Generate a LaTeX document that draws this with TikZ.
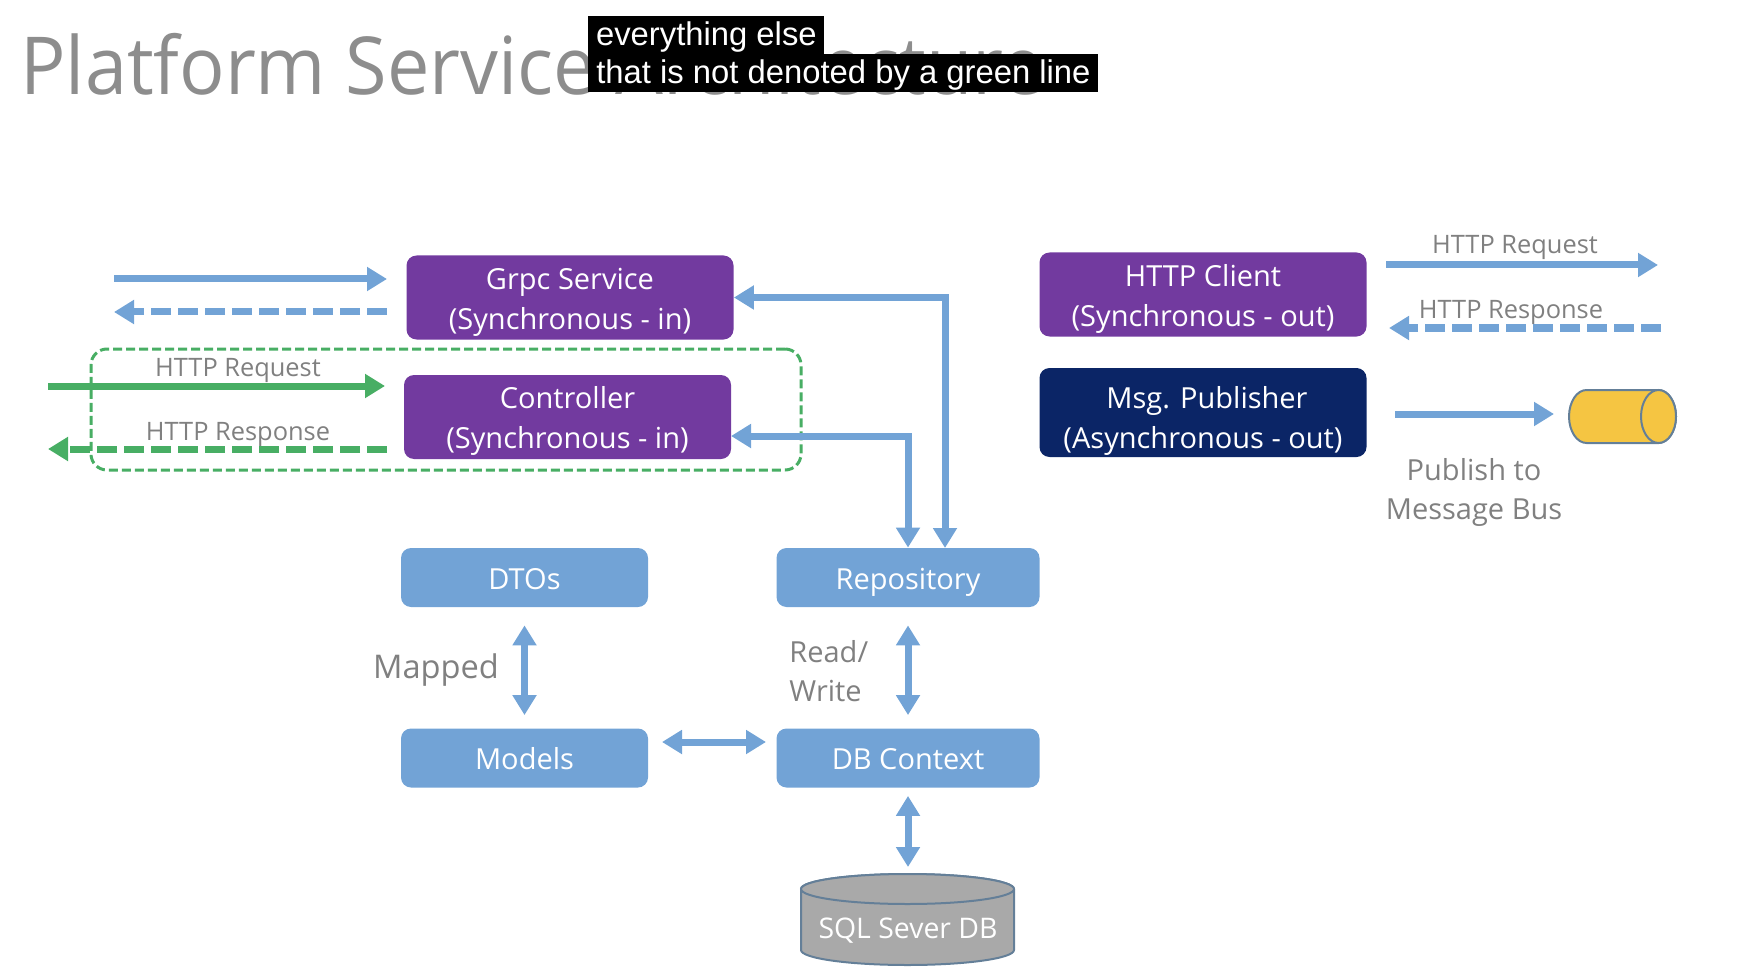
\documentclass[tikz,border=0pt]{standalone}
\usepackage{fontspec}
\setmainfont{Open Sans}
\newfontfamily\captionfont{Liberation Sans}
\newfontfamily\titlefont[FakeStretch=0.945]{Open Sans}
\usetikzlibrary{arrows.meta,positioning}
\definecolor{grape}{HTML}{723A9F}
\definecolor{navy}{HTML}{0B2566}
\definecolor{sky}{HTML}{72A3D6}
\definecolor{leaf}{HTML}{48AE64}
\definecolor{ink}{HTML}{808080}
\definecolor{bar}{HTML}{F5C542}
\definecolor{stone}{HTML}{A9A9A9}
\definecolor{rim}{HTML}{647F98}
\newcommand{\lift}[1]{\rule{0pt}{#1}}
\begin{document}
\begin{tikzpicture}
[x=0.5pt,y=-0.5pt,
box/.style={rectangle,rounded corners=5pt,inner sep=0pt,text=white,align=center,font=\fontsize{14.5}{20}\selectfont},
svcbox/.style={box,fill=grape,minimum width=163.5pt,minimum height=42pt},
pubbox/.style={box,fill=navy,minimum width=163.5pt,minimum height=44.5pt},
dtobox/.style={box,fill=sky,minimum width=123.5pt,minimum height=29.5pt,text height=11.5pt,text depth=0pt},
repobox/.style={box,fill=sky,minimum width=131.5pt,minimum height=29.5pt,text height=11.5pt,text depth=0pt},
tag/.style={text=ink,inner sep=0pt,font=\fontsize{12.7}{15}\selectfont},
bigtag/.style={text=ink,inner sep=0pt,font=\fontsize{14.5}{19.5}\selectfont},
capbar/.style={fill=black,text=white,anchor=north west,inner sep=0pt,minimum height=19pt,text height=14pt,text depth=3.5pt,font=\captionfont\fontsize{16.4}{19}\selectfont},
link/.style={sky,line width=3.5pt,-{Triangle[length=10pt,width=11.5pt]}},
both/.style={sky,line width=3.5pt,{Triangle[length=10pt,width=11.5pt]}-{Triangle[length=10pt,width=11.5pt]}},
dashy/.style={dash pattern=on 10pt off 3.5pt},
zone/.style={draw=leaf,line width=1.5pt,dash pattern=on 4.5pt off 2pt,rounded corners=8pt,minimum width=355pt,minimum height=60.5pt,inner sep=0pt},
can/.style={draw=rim,line width=1pt}]
\useasboundingbox (0,0) rectangle (1748,978);

\node[anchor=base west,inner sep=0pt,text=ink!90,font=\titlefont\fontsize{40}{45}\selectfont] (title) at (20,95) {Platform Service Architecture};
\node[capbar,minimum width=118pt] (cap1) at (588,16) {everything else};
\node[capbar,minimum width=255pt] (cap2) at (588,54) {that is not denoted by a green line};

\node[zone] (web) at (446,409.5) {};

\node[svcbox] (grpc) at (570,297.5) {\lift{15pt}Grpc Service\\(Synchronous - in)};
\node[svcbox] (ctrl) at (567.5,417) {\lift{15pt}Controller\\(Synchronous - in)};
\node[svcbox] (client) at (1203,294.5) {\lift{15pt}HTTP Client\\(Synchronous - out)};
\node[pubbox] (pub) at (1203,412.5) {\lift{19pt}\hspace*{4pt}Msg. Publisher\\(Asynchronous - out)};
\node[dtobox] (dtos) at (524.5,577.5) {DTOs};
\node[dtobox] (models) at (524.5,758) {Models};
\node[repobox] (repo) at (908,577.5) {Repository};
\node[repobox] (db) at (908,758) {DB Context};

\path[can,fill=stone] (801,889) -- (801,950) arc[start angle=180,end angle=360,x radius=53.25pt,y radius=7.5pt] -- (1014,889) arc[start angle=0,end angle=180,x radius=53.25pt,y radius=7.5pt] -- cycle;
\path[can,fill=stone] (907.5,889) ellipse [x radius=53.25pt,y radius=7.5pt];
\path[can,fill=bar] (1586.5,390) arc[start angle=90,end angle=270,x radius=8.75pt,y radius=13.25pt] -- (1658.5,443) arc[start angle=-90,end angle=90,x radius=8.75pt,y radius=13.25pt] -- cycle;
\path[can,fill=bar] (1658.5,416.5) ellipse [x radius=8.75pt,y radius=13.25pt];

\node[text=white,inner sep=0pt,font=\fontsize{14.2}{20}\selectfont] (sql) at (908,931) {SQL Sever DB};

\node[tag] (req1) at (238,370.5) {HTTP Request};
\node[tag] (res1) at (238,434.5) {HTTP Response};
\node[tag] (req2) at (1515,247.5) {HTTP Request};
\node[tag] (res2) at (1511,312.5) {HTTP Response};
\node[bigtag,align=center] (pubtag) at (1474,492) {Publish to\\Message Bus};
\node[bigtag,font=\fontsize{16.3}{19.5}\selectfont] (mapped) at (436,670) {Mapped};
\node[bigtag,align=left,anchor=west] (rw) at (789,671.5) {Read/\\Write};

\coordinate (g1) at (114,279);
\coordinate (g2) at (387,279);
\coordinate (g3) at (114,312);
\coordinate (g4) at (387,312);
\coordinate (c1) at (48,386);
\coordinate (c2) at (385,386);
\coordinate (c3) at (48,449);
\coordinate (c4) at (387,449);
\coordinate (o1) at (1386,265);
\coordinate (o2) at (1658,265);
\coordinate (o3) at (1389,328);
\coordinate (o4) at (1661,328);
\coordinate (p1) at (1395,414);
\coordinate (p2) at (1554,414);
\coordinate (r1) at (945,548);
\coordinate (r2) at (731,436);
\coordinate (m1) at (662,742);
\coordinate (m2) at (766,742);
\coordinate (top) at (908,874);

\draw [link] (g1) -- (g2);
\draw [link,dashy] (g4) -- (g3);
\draw [link,leaf] (c1) -- (c2);
\draw [link,leaf,dashy] (c4) -- (c3);
\draw [link] (o1) -- (o2);
\draw [link,dashy] (o4) -- (o3);
\draw [link] (p1) -- (p2);
\draw [both] (r2) -| (repo.north);
\draw [both] (grpc.east) -| (r1);
\draw [both,shorten <=9pt,shorten >=6.5pt] (dtos.south) -- (models.north);
\draw [both,shorten <=9pt,shorten >=6.5pt] (repo.south) -- (db.north);
\draw [both] (m1) -- (m2);
\draw [both,shorten <=4pt,shorten >=3.5pt] (db.south) -- (top);
\end{tikzpicture}
\end{document}
